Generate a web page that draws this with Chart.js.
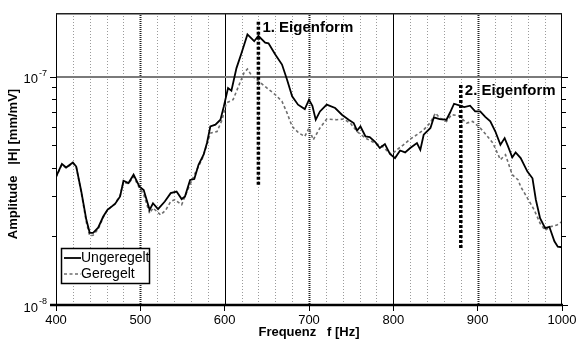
<!DOCTYPE html>
<html><head><meta charset="utf-8">
<script src="https://cdn.jsdelivr.net/npm/chart.js@4"></script>
<style>html,body{margin:0;padding:0;background:#fff}</style>
</head><body>
<canvas id="c" width="577" height="343" style="width:577px;height:343px;display:block"></canvas>
<script>
// ---- data ----
const freqUngeregelt = [400,407,412,420,424,430,436,440,444,450,456,461,470,476,480,486,492,499,504,511,515,521,529,536,543,549,553,559,564,569,575,579,583,589,595,599,604,608,614,620,627,635,640,648,652,660,668,674,680,687,695,700,704,708,713,721,731,739,747,753,757,761,767,772,778,784,790,796,802,808,814,820,828,832,836,844,848,855,863,867,872,879,884,891,897,903,909,915,921,927,932,936,941,945,951,959,965,969,974,980,985,991,995,1000];
const ampUngeregelt = [3.64e-8,4.15e-8,4.00e-8,4.21e-8,4.04e-8,3.14e-8,2.36e-8,2.07e-8,2.07e-8,2.18e-8,2.44e-8,2.61e-8,2.77e-8,2.99e-8,3.50e-8,3.42e-8,3.72e-8,3.30e-8,3.19e-8,2.61e-8,2.79e-8,2.63e-8,2.84e-8,3.09e-8,3.14e-8,2.91e-8,2.99e-8,3.53e-8,3.56e-8,4.11e-8,4.55e-8,5.12e-8,6.05e-8,6.16e-8,6.48e-8,7.41e-8,8.92e-8,8.68e-8,10.9e-8,12.7e-8,15.3e-8,14.3e-8,15.1e-8,14.1e-8,14.0e-8,12.5e-8,11.3e-8,9.70e-8,8.20e-8,7.54e-8,7.21e-8,7.93e-8,7.46e-8,6.48e-8,7.04e-8,7.54e-8,7.29e-8,6.81e-8,6.48e-8,6.26e-8,5.81e-8,6.05e-8,5.47e-8,5.44e-8,5.20e-8,4.87e-8,5.07e-8,4.59e-8,4.40e-8,4.75e-8,4.66e-8,4.87e-8,5.12e-8,4.78e-8,5.57e-8,5.96e-8,6.63e-8,6.52e-8,6.48e-8,6.93e-8,7.61e-8,7.46e-8,7.36e-8,7.46e-8,7.04e-8,7.04e-8,6.66e-8,6.37e-8,5.75e-8,5.03e-8,5.38e-8,4.95e-8,4.43e-8,4.66e-8,4.40e-8,3.84e-8,3.59e-8,2.89e-8,2.40e-8,2.17e-8,2.20e-8,1.90e-8,1.80e-8,1.79e-8];
const freqGeregelt = [400,407,412,420,424,430,436,440,444,450,456,461,470,476,480,486,492,499,504,511,515,524,530,536,541,549,557,565,573,579,583,591,597,602,610,618,623,627,632,638,650,660,668,674,680,688,695,700,705,713,721,733,741,749,757,767,778,787,798,804,812,820,828,836,844,850,855,863,869,877,887,894,903,910,918,927,933,941,948,951,959,967,974,980,986,994,1000];
const ampGeregelt = [3.62e-8,4.12e-8,3.98e-8,4.18e-8,4.02e-8,3.10e-8,2.30e-8,2.01e-8,2.02e-8,2.15e-8,2.42e-8,2.60e-8,2.78e-8,3.02e-8,3.45e-8,3.40e-8,3.65e-8,3.25e-8,3.05e-8,2.52e-8,2.66e-8,2.48e-8,2.60e-8,2.84e-8,2.89e-8,2.75e-8,3.25e-8,3.78e-8,4.33e-8,5.03e-8,5.66e-8,5.75e-8,6.48e-8,7.67e-8,7.93e-8,9.38e-8,10.4e-8,10.8e-8,10.1e-8,9.70e-8,8.92e-8,8.34e-8,7.79e-8,6.93e-8,6.05e-8,5.66e-8,5.47e-8,5.96e-8,5.29e-8,5.96e-8,6.52e-8,6.48e-8,6.52e-8,6.26e-8,5.75e-8,5.38e-8,5.12e-8,4.95e-8,4.55e-8,4.78e-8,5.03e-8,5.33e-8,5.57e-8,5.85e-8,6.30e-8,6.93e-8,6.59e-8,6.37e-8,6.81e-8,6.75e-8,6.26e-8,6.37e-8,5.96e-8,5.57e-8,5.12e-8,4.33e-8,4.55e-8,3.72e-8,3.53e-8,3.30e-8,2.94e-8,2.61e-8,2.28e-8,2.12e-8,2.20e-8,2.24e-8,2.32e-8];
const seriesNames = ['Ungeregelt', 'Geregelt'];
const xTicks = [400,500,600,700,800,900,1000];
const yDecades = [1e-8, 1e-7];
const yDecadeLabels = ['-8', '-7'];
const modeFreq = [640, 880];
const modeTop = [1.74e-7, 9.2e-8];
const modeBottom = [3.3e-8, 1.74e-8];
const modeLabels = ['1. Eigenform', '2. Eigenform'];
const xTitle = 'Frequenz   f [Hz]';
const yTitle = 'Amplitude   |H| [mm/mV]';

const FONT = '"Liberation Sans", Arial, sans-serif';

const deco = {
  id: 'deco',
  beforeDatasetsDraw(chart) {
    const {ctx, chartArea: a, scales: {x, y}} = chart;
    ctx.save();
    // minor vertical dotted grid every 20 Hz
    ctx.lineWidth = 1;
    ctx.strokeStyle = '#9a9a9a';
    ctx.setLineDash([1, 2]);
    for (let f = x.min + 20; f < x.max; f += 20) {
      if (f % 100 === 0) continue;
      const px = Math.round(x.getPixelForValue(f)) + 0.5;
      ctx.beginPath(); ctx.moveTo(px, a.top); ctx.lineTo(px, a.bottom); ctx.stroke();
    }
    // major vertical grid
    xTicks.forEach(f => {
      if (f === x.min || f === x.max) return;
      const px = Math.round(x.getPixelForValue(f)) + 0.5;
      if (f % 200 === 0) { ctx.setLineDash([]); ctx.strokeStyle = '#000'; ctx.lineWidth = 1; }
      else { ctx.setLineDash([1, 1]); ctx.strokeStyle = '#222'; ctx.lineWidth = 2; }
      ctx.beginPath(); ctx.moveTo(px, a.top); ctx.lineTo(px, a.bottom); ctx.stroke();
    });
    // horizontal grid at 1e-7
    ctx.setLineDash([]);
    ctx.strokeStyle = '#7a7a7a'; ctx.lineWidth = 2;
    const py = Math.round(y.getPixelForValue(1e-7));
    ctx.beginPath(); ctx.moveTo(a.left, py); ctx.lineTo(a.right, py); ctx.stroke();
    ctx.restore();
  },
  afterDatasetsDraw(chart) {
    const {ctx, chartArea: a, scales: {x, y}} = chart;
    ctx.save();
    // frame
    ctx.setLineDash([]);
    ctx.strokeStyle = '#000';
    ctx.lineWidth = 1;
    ctx.beginPath();
    ctx.moveTo(Math.round(a.left) + 0.5, a.top); ctx.lineTo(Math.round(a.left) + 0.5, a.bottom);
    ctx.moveTo(Math.round(a.right) - 0.5, a.top); ctx.lineTo(Math.round(a.right) - 0.5, a.bottom);
    ctx.stroke();
    ctx.strokeStyle = '#222'; ctx.lineWidth = 1.5;
    ctx.beginPath(); ctx.moveTo(a.left, a.top + 0.75); ctx.lineTo(a.right, a.top + 0.75); ctx.stroke();
    ctx.strokeStyle = '#000'; ctx.lineWidth = 2.5;
    ctx.beginPath(); ctx.moveTo(a.left - 6, a.bottom); ctx.lineTo(a.right + 1, a.bottom); ctx.stroke();
    // y ticks (log, left & right outward)
    ctx.lineWidth = 1; ctx.strokeStyle = '#000';
    for (let d = 0; d < yDecades.length; d++) {
      for (let k = 1; k <= 9; k++) {
        const v = yDecades[d] * k;
        if (v > y.max * 1.0001) break;
        const py = Math.round(y.getPixelForValue(v)) + 0.5;
        const len = k === 1 ? 6 : 4;
        ctx.beginPath();
        ctx.moveTo(a.left - len, py); ctx.lineTo(a.left, py);
        ctx.moveTo(a.right, py); ctx.lineTo(a.right + len, py);
        ctx.stroke();
      }
    }
    // y decade labels
    ctx.fillStyle = '#000';
    yDecades.forEach((v, i) => {
      const py = y.getPixelForValue(v);
      ctx.font = '13px ' + FONT;
      ctx.textAlign = 'right'; ctx.textBaseline = 'middle';
      ctx.fillText('10', a.left - 18, py + 3);
      ctx.font = '9px ' + FONT;
      ctx.textAlign = 'left';
      ctx.fillText(yDecadeLabels[i], a.left - 17, py - 3);
    });
    // y title
    ctx.save();
    ctx.translate(13, (a.top + a.bottom) / 2 + 5);
    ctx.rotate(-Math.PI / 2);
    ctx.font = 'bold 13px ' + FONT;
    ctx.textAlign = 'center'; ctx.textBaseline = 'middle';
    ctx.fillText(yTitle, 0, 0);
    ctx.restore();
    // mode markers
    modeFreq.forEach((f, i) => {
      const px = x.getPixelForValue(f);
      const t = y.getPixelForValue(modeTop[i]);
      const b = y.getPixelForValue(modeBottom[i]);
      ctx.strokeStyle = '#000'; ctx.lineWidth = 3.5;
      ctx.setLineDash([3, 2]);
      ctx.beginPath(); ctx.moveTo(px, t); ctx.lineTo(px, b); ctx.stroke();
      ctx.setLineDash([]);
      ctx.font = 'bold 15px ' + FONT;
      ctx.textAlign = 'left'; ctx.textBaseline = 'middle';
      ctx.fillStyle = '#000';
      ctx.fillText(modeLabels[i], px + 4, t + 6);
    });
    // legend
    const lx = a.left + 5, ly = a.bottom - 57, lw = 88, lh = 35;
    ctx.fillStyle = '#fff';
    ctx.fillRect(lx, ly, lw, lh);
    ctx.strokeStyle = '#000'; ctx.lineWidth = 1.5;
    ctx.strokeRect(lx + 0.5, ly + 0.5, lw, lh);
    chart.data.datasets.forEach((ds, i) => {
      const yy = ly + 10 + i * 16;
      ctx.strokeStyle = ds.borderColor; ctx.lineWidth = ds.borderWidth;
      ctx.setLineDash(ds.borderDash || []);
      ctx.beginPath(); ctx.moveTo(lx + 3, yy); ctx.lineTo(lx + 20, yy); ctx.stroke();
      ctx.setLineDash([]);
      ctx.fillStyle = '#000';
      ctx.font = '14px ' + FONT;
      ctx.textAlign = 'left'; ctx.textBaseline = 'middle';
      ctx.fillText(ds.label, lx + 20, yy + 0.5);
    });
    ctx.restore();
  }
};

new Chart(document.getElementById('c'), {
  type: 'line',
  data: {
    datasets: [
      { label: seriesNames[0], data: freqUngeregelt.map((f, i) => ({x: f, y: ampUngeregelt[i]})),
        borderColor: '#000', borderWidth: 1.8, pointRadius: 0, tension: 0, fill: false },
      { label: seriesNames[1], data: freqGeregelt.map((f, i) => ({x: f, y: ampGeregelt[i]})),
        borderColor: '#6e6e6e', borderWidth: 1.6, borderDash: [3, 2.5], pointRadius: 0, tension: 0, fill: false }
    ]
  },
  options: {
    responsive: false,
    animation: false,
    events: [],
    layout: { padding: { top: 13, right: 15, left: 0, bottom: 0 } },
    plugins: { legend: { display: false }, tooltip: { enabled: false } },
    scales: {
      x: {
        type: 'linear', min: 400, max: 1000,
        afterBuildTicks: s => { s.ticks = xTicks.map(v => ({value: v})); },
        ticks: { color: '#000', font: { size: 13, family: FONT }, padding: 2, maxRotation: 0, callback: v => String(v) },
        grid: { display: true, drawOnChartArea: false, drawTicks: true, tickLength: 6, tickColor: '#000', tickWidth: 1 },
        border: { display: false },
        title: { display: true, text: xTitle, color: '#000', font: { size: 13, weight: 'bold', family: FONT }, padding: { top: 0, bottom: 3 } },
        afterFit: s => { s.height = 38; s.paddingLeft = 0; s.paddingRight = 0; }
      },
      y: {
        type: 'logarithmic', min: 1e-8, max: 1.9e-7,
        ticks: { callback: () => '' },
        grid: { display: false },
        border: { display: false },
        afterFit: s => { s.width = 56; s.paddingTop = 0; s.paddingBottom = 0; }
      }
    }
  },
  plugins: [deco]
});
</script>
</body></html>
